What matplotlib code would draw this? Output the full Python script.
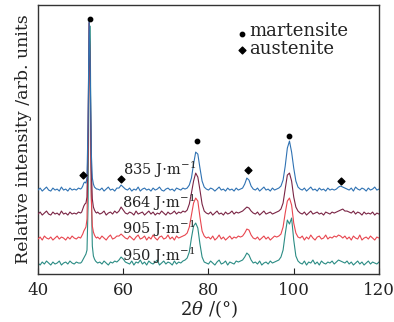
import matplotlib
matplotlib.use("Agg")
import matplotlib.pyplot as plt
import numpy as np

plt.rcParams['font.family'] = ['DejaVu Serif']
plt.rcParams['mathtext.fontset'] = 'dejavuserif'

# 2theta sampling grid (degrees)
two_theta = ([40.0, 40.5, 41.0, 41.5, 42.0, 42.5, 43.0, 43.5, 44.0, 44.5,
              45.0, 45.5, 46.0, 46.5, 47.0, 47.5, 48.0, 48.5, 49.0, 49.5,
              50.0, 50.25, 50.5, 50.75, 51.0, 51.25, 51.5, 51.75, 52.0, 52.25,
              52.5, 52.75, 53.0, 53.25, 53.5, 53.75]
             + [54.0 + 0.5 * k for k in range(133)])

# intensities above each trace's baseline (arb. units)
i_835 = ([2, 4, 1, 3, 5, 2, 1, 4, 2, 3, 1, 5, 2, 3, 1, 4, 2, 3, 2, 4]
         + [3, 4, 6, 9, 10, 9, 14, 70, 172, 125, 40, 14, 8, 5, 4, 3]
         + [3, 2, 4, 1, 3, 5, 2, 3, 1, 4]
         + [4, 7, 5, 3]
         + [2, 4, 1, 3, 2, 5, 1, 3, 4, 2, 3, 1, 4, 2, 3, 5, 2, 1, 3, 4, 2, 3, 1, 4, 3, 2, 4, 3]
         + [4, 7, 14, 28, 40, 38, 24, 11, 5, 3]
         + [2, 4, 3, 1, 3, 5, 2, 3, 1, 4, 2, 3, 1, 4, 2, 3]
         + [4, 8, 14, 12, 6, 3]
         + [2, 4, 1, 3, 5, 2, 3, 1, 4, 2, 3, 4]
         + [6, 12, 26, 44, 51, 40, 24, 11, 5]
         + [3, 2, 4, 1, 3, 5, 2, 3, 1, 4, 2, 3, 1, 4, 2, 3, 2]
         + [3, 5, 6, 5, 4]
         + [3, 2, 4, 1, 5, 3, 2, 4, 3, 1, 4, 2, 3, 5, 2, 3])

i_864 = ([3, 5, 2, 4, 6, 3, 2, 5, 3, 4, 2, 6, 3, 4, 2, 5, 3, 4, 3, 5]
         + [4, 5, 8, 11, 13, 14, 20, 85, 195, 145, 50, 18, 10, 7, 5, 4]
         + [5, 3, 4, 6, 2, 4, 5, 3, 6, 4]
         + [6, 10, 7, 4]
         + [3, 5, 4, 2, 6, 3, 4, 5, 2, 4, 6, 3, 5, 2, 4, 3, 6, 4, 2, 5, 3, 4, 6, 3, 5, 4, 6, 5]
         + [7, 13, 24, 36, 44, 40, 27, 13, 6, 4]
         + [3, 5, 2, 4, 6, 3, 4, 2, 5, 3, 4, 6, 3, 5, 4, 5]
         + [6, 8, 10, 9, 6, 4]
         + [3, 5, 2, 4, 6, 3, 4, 5, 3, 4, 5, 6]
         + [8, 14, 28, 42, 44, 36, 20, 10, 6]
         + [4, 3, 5, 2, 4, 6, 3, 4, 5, 3, 4, 2, 5, 4, 3, 5, 4]
         + [5, 6, 7, 8, 6]
         + [6, 5, 4, 6, 3, 5, 4, 2, 5, 3, 4, 3, 5, 2, 4, 3])

i_905 = ([2, 4, 1, 5, 3, 2, 4, 1, 3, 5, 2, 4, 3, 1, 4, 2, 5, 3, 2, 4]
         + [3, 5, 7, 10, 12, 14, 22, 90, 218, 155, 45, 15, 9, 6, 4, 3]
         + [4, 2, 5, 3, 1, 4, 6, 2, 3, 5]
         + [5, 7, 5, 3]
         + [2, 5, 3, 1, 4, 6, 2, 3, 5, 1, 4, 2, 6, 3, 1, 4, 5, 2, 3, 6, 2, 4, 1, 5, 3, 4, 5, 6]
         + [8, 14, 26, 38, 43, 40, 24, 10, 5, 3]
         + [4, 2, 5, 1, 3, 6, 2, 4, 1, 3, 5, 2, 4, 3, 5, 4]
         + [5, 8, 12, 11, 6, 3]
         + [2, 4, 1, 3, 5, 2, 4, 1, 3, 5, 4, 5]
         + [7, 14, 28, 40, 43, 36, 18, 8, 4]
         + [3, 5, 1, 4, 2, 6, 3, 1, 4, 5, 2, 3, 6, 2, 4, 3, 5]
         + [4, 6, 5, 3, 5]
         + [2, 4, 1, 5, 3, 2, 6, 1, 3, 4, 2, 5, 3, 1, 4, 3])

i_950 = ([3, 1, 4, 2, 5, 3, 1, 4, 2, 3, 5, 1, 3, 4, 2, 5, 3, 2, 4, 3]
         + [3, 4, 6, 8, 10, 12, 16, 60, 200, 240, 75, 20, 10, 7, 5, 4]
         + [3, 4, 2, 5, 3, 1, 4, 3, 5, 4]
         + [6, 9, 7, 4]
         + [3, 2, 5, 1, 4, 3, 6, 2, 4, 1, 5, 3, 2, 4, 6, 1, 3, 5, 2, 4, 3, 1, 5, 2, 4, 3, 5, 6]
         + [8, 14, 28, 40, 43, 38, 22, 9, 4, 3]
         + [2, 5, 3, 1, 4, 6, 2, 3, 5, 1, 4, 3, 2, 5, 4, 5]
         + [6, 9, 13, 11, 6, 3]
         + [4, 2, 5, 1, 3, 4, 2, 5, 3, 4, 5, 6]
         + [9, 16, 32, 46, 42, 48, 26, 10, 5]
         + [3, 2, 5, 1, 4, 3, 6, 2, 4, 1, 5, 3, 2, 4, 3, 5, 2]
         + [4, 6, 5, 4, 3]
         + [5, 2, 4, 1, 3, 5, 2, 4, 1, 3, 5, 2, 4, 3, 2, 4])

series_labels = ['835', '864', '905', '950']
series_data = [i_835, i_864, i_905, i_950]

# phase marker positions (2theta, height on plot)
martensite_x = [52.1, 77.2, 98.8]
martensite_y = [255, 133, 138]
austenite_x = [50.6, 59.5, 89.2, 111.2]
austenite_y = [99, 95, 104, 93]

offsets = [82, 57, 33, 8]
colors = ['#2f72b3', '#7a2545', '#e8464f', '#2b8c84']
label_pos = [(60.0, 104), (59.7, 71), (59.7, 45), (59.7, 18)]

fig = plt.figure(figsize=(3.94, 3.22), dpi=100)
ax = fig.add_axes([0.0964, 0.149, 0.8655, 0.835])

x = np.array(two_theta)
for idx in [3, 2, 1, 0]:
    y = np.array(series_data[idx], dtype=float) + offsets[idx]
    ax.plot(x, y, color=colors[idx], lw=0.8, zorder=2 + (3 - idx))

for idx, lab in enumerate(series_labels):
    lx, ly = label_pos[idx]
    ax.text(lx, ly, lab + r' J$\cdot$m$^{-1}$', fontsize=10.5, va='center',
            ha='left', color='#222222', zorder=10)

ax.scatter(martensite_x, martensite_y, marker='o', s=10, color='black', zorder=12)
ax.scatter(austenite_x, austenite_y, marker='D', s=12, color='black', zorder=12)

# legend
ax.scatter([87.9], [240], marker='o', s=10, color='black', zorder=12)
ax.scatter([87.9], [224], marker='D', s=12, color='black', zorder=12)
ax.text(89.6, 243, 'martensite', fontsize=13, va='center', ha='left', color='#222222')
ax.text(89.6, 225, 'austenite', fontsize=13, va='center', ha='left', color='#222222')

ax.set_xlim(40, 120)
ax.set_ylim(0, 269)
ax.set_xticks([40, 60, 80, 100, 120])
ax.set_yticks([])
ax.tick_params(axis='x', direction='in', length=4, width=0.8, labelsize=12,
               pad=6, colors='#222222')
for s in ax.spines.values():
    s.set_linewidth(1.0)
    s.set_color('#333333')

ax.set_xlabel(r'$2\theta$ /(°)', fontsize=13, labelpad=-1, color='#222222')
ax.set_ylabel('Relative intensity /arb. units', fontsize=12.5, labelpad=4,
              color='#222222')

fig.savefig('out.png', dpi=100)
